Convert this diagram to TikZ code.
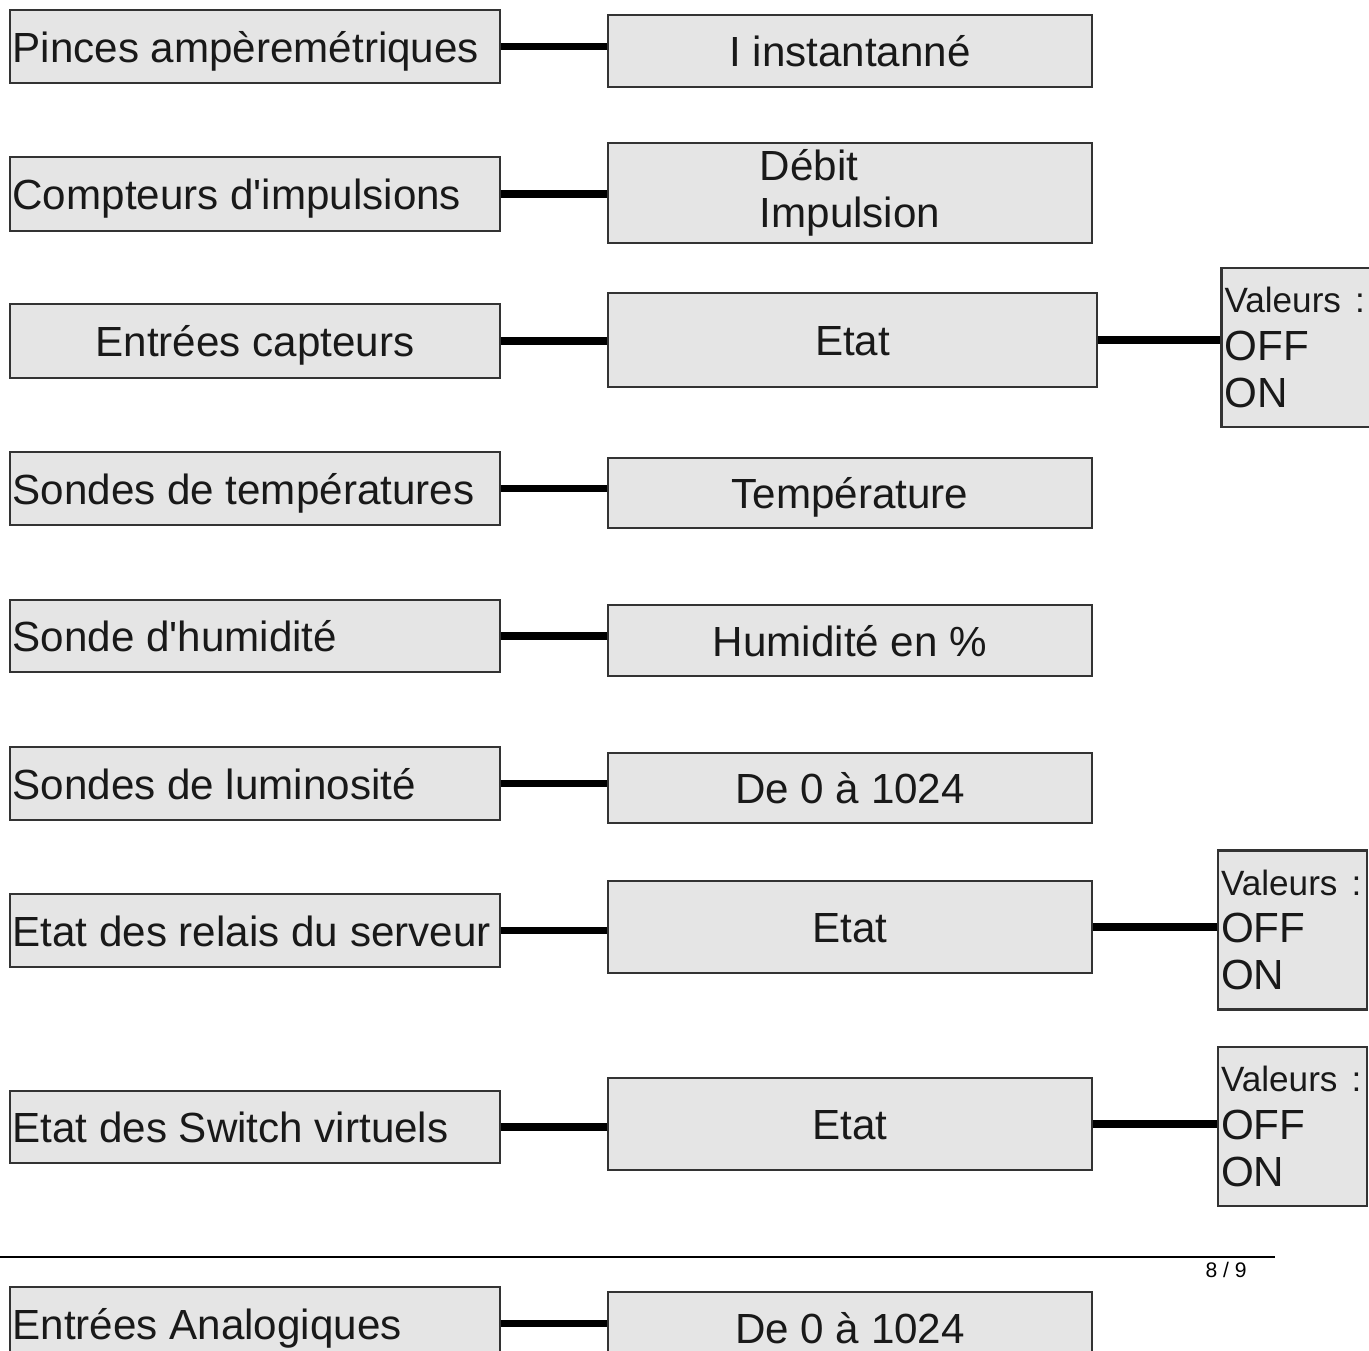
\documentclass[tikz,border=0pt]{standalone}
\usepackage{fontspec}
\setmainfont{Liberation Sans}
\usetikzlibrary{calc}
\newcommand{\boxfont}{\fontsize{24}{27}\selectfont}
\newcommand{\valfont}{\fontsize{20}{24}\selectfont}
\newcommand{\gauche}[1]{\makebox[9.7cm][l]{#1}}

\begin{document}
\begin{tikzpicture}[x=0.02cm,y=-0.02cm,
	box/.style={draw=black!80, line width=1.2pt, fill=gray!20, text=black!90, font=\boxfont, inner sep=0pt},
	src/.style={box, minimum width=9.8cm, text height=18pt, text depth=0pt},
	mesure/.style={box, minimum width=9.68cm, align=center, text height=18pt, text depth=0pt},
	valeurs/.style={box, minimum width=2.98cm, minimum height=3.18cm, text width=2.86cm, align=left},
	lien/.style={line width=4pt}]
	\useasboundingbox (0,0) rectangle (1369,1351);
	\clip (0,0) rectangle (1369,1351);

	% capteurs
	\node[src, minimum height=1.46cm] (pinces) at (255,46.5) {\gauche{Pinces ampèremétriques}};
	\node[src, minimum height=1.48cm] (compteurs) at (255,194) {\gauche{Compteurs d\textquotesingle impulsions}};
	\node[src, minimum height=1.48cm] (capteurs) at (255,341) {Entrées capteurs};
	\node[src, minimum height=1.46cm] (sondes) at (255,488.5) {\gauche{Sondes de températures}};
	\node[src, minimum height=1.44cm] (humid) at (255,636) {\gauche{Sonde d\textquotesingle humidité}};
	\node[src, minimum height=1.46cm] (lumin) at (255,783.5) {\gauche{Sondes de luminosité}};
	\node[src, minimum height=1.46cm] (relais) at (255,930.5) {\gauche{Etat des relais du serveur}};
	\node[src, minimum height=1.44cm] (switch) at (255,1127) {\gauche{Etat des Switch virtuels}};
	\node[src, minimum height=1.46cm] (analog) at (255,1323.5) {\gauche{Entrées Analogiques}};

	% mesures
	\node[mesure, minimum height=1.44cm] (iinst) at (850,51) {I instantanné};
	\node[box, minimum width=9.68cm, minimum height=2cm, align=left] (debit) at (850,193) {Débit\\Impulsion};
	\node[mesure, minimum width=9.78cm, minimum height=1.88cm] (etat1) at (852.5,340) {Etat};
	\node[mesure, minimum height=1.4cm] (temp) at (850,493) {Température};
	\node[mesure, minimum height=1.42cm] (humval) at (850,640.5) {Humidité en \%};
	\node[mesure, minimum height=1.4cm] (lumval) at (850,788) {De 0 à 1024};
	\node[mesure, minimum height=1.84cm] (etat2) at (850,927) {Etat};
	\node[mesure, minimum height=1.84cm] (etat3) at (850,1124) {Etat};
	\node[mesure, minimum height=1.44cm] (anaval) at (850,1328) {De 0 à 1024};

	% valeurs possibles
	\node[valeurs] (val1) at (1296,347.5) {{\valfont Valeurs :}\\OFF\\ON};
	\node[valeurs] (val2) at (1292.5,930) {{\valfont Valeurs :}\\OFF\\ON};
	\node[valeurs] (val3) at (1292.5,1126.5) {{\valfont Valeurs :}\\OFF\\ON};

	\draw[lien] (pinces.east) -- (pinces.east -| iinst.west);
	\draw[lien] (compteurs.east) -- (compteurs.east -| debit.west);
	\draw[lien] (capteurs.east) -- (capteurs.east -| etat1.west);
	\draw[lien] (sondes.east) -- (sondes.east -| temp.west);
	\draw[lien] (humid.east) -- (humid.east -| humval.west);
	\draw[lien] (lumin.east) -- (lumin.east -| lumval.west);
	\draw[lien] (relais.east) -- (relais.east -| etat2.west);
	\draw[lien] (switch.east) -- (switch.east -| etat3.west);
	\draw[lien] (analog.east) -- (analog.east -| anaval.west);
	\draw[lien] (etat1.east) -- (etat1.east -| val1.west);
	\draw[lien] (etat2.east) -- (etat2.east -| val2.west);
	\draw[lien] (etat3.east) -- (etat3.east -| val3.west);

	% pied de page
	\draw[line width=1.2pt] (0,1257) -- (1275,1257);
	\node[font=\fontsize{12}{14}\selectfont, inner sep=0pt] (page) at (1226,1270) {8 / 9};
\end{tikzpicture}
\end{document}
